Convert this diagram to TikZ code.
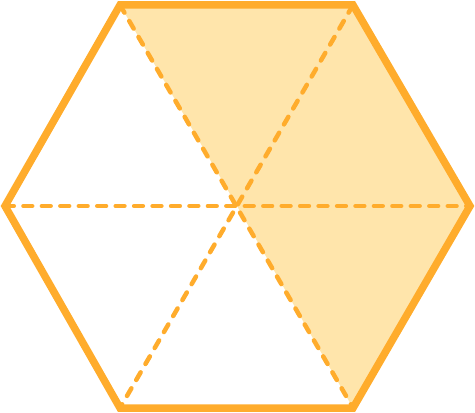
\documentclass[tikz,border=0pt]{standalone}
\usepackage{xcolor}
\usetikzlibrary{positioning}
\definecolor{hexorange}{HTML}{FFAC2C}
\definecolor{hexfill}{HTML}{FFE5AB}

\begin{document}
\begin{tikzpicture}[x=0.02cm, y=-0.02cm,
    rim/.style={hexorange, line width=0.15cm, line join=miter},
    spoke/.style={hexorange, line width=0.09cm, line cap=round, dash pattern=on 5pt off 5.5pt}]
  \useasboundingbox (0,0) rectangle (475,412);
  % corners of the hexagon
  \coordinate (tl) at (120,5);
  \coordinate (tr) at (353,5);
  \coordinate (r) at (470,206);
  \coordinate (br) at (353,408);
  \coordinate (bl) at (120,408);
  \coordinate (l) at (5,206);
  \coordinate (o) at (237,206);

  % shaded half
  \fill[hexfill] (o) -- (tl) -- (tr) -- (r) -- (br) -- cycle;

  \draw[spoke] (tl) -- (br);
  \draw[spoke] (tr) -- (bl);
  \draw[spoke] (l) -- (r);

  \draw[rim] (tl) -- (tr) -- (r) -- (br) -- (bl) -- (l) -- cycle;
\end{tikzpicture}
\end{document}
